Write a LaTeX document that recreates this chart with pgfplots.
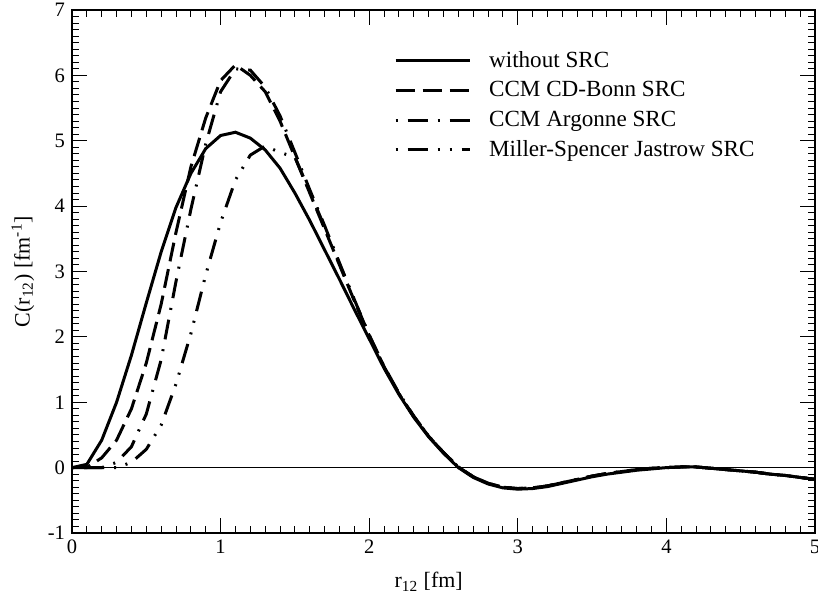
\documentclass[border=0pt]{standalone}
\usepackage{fontspec}
\setmainfont{Liberation Serif}
\usepackage{pgfplots}
\pgfplotsset{compat=1.18}
\usetikzlibrary{calc}

\pgfplotstableread{
x y
0 0
0.1 0.05
0.2 0.42
0.3 1.0
0.4 1.72
0.5 2.52
0.6 3.3
0.7 3.98
0.8 4.5
0.9 4.88
1.0 5.08
1.1 5.13
1.2 5.04
1.3 4.86
1.4 4.58
1.5 4.2
1.6 3.78
1.7 3.33
1.8 2.88
1.9 2.42
2.0 1.97
2.1 1.52
2.2 1.12
2.3 0.77
2.4 0.47
2.5 0.22
2.6 0.0
2.7 -0.15
2.8 -0.25
2.9 -0.31
3.0 -0.33
3.1 -0.32
3.2 -0.29
3.3 -0.24
3.4 -0.19
3.5 -0.14
3.6 -0.10
3.7 -0.07
3.8 -0.04
3.9 -0.02
4.0 0.0
4.1 0.01
4.2 0.01
4.3 -0.01
4.4 -0.03
4.5 -0.05
4.6 -0.07
4.7 -0.10
4.8 -0.12
4.9 -0.15
5.0 -0.18
}\nosrc

\pgfplotstableread{
x y
0 0
0.1 0.0
0.2 0.15
0.3 0.42
0.4 0.9
0.5 1.6
0.6 2.5
0.7 3.6
0.8 4.6
0.9 5.35
1.0 5.92
1.1 6.16
1.2 6.0
1.3 5.75
1.4 5.3
1.5 4.75
1.6 4.2
1.7 3.65
1.8 3.1
1.9 2.55
2.0 2.02
2.1 1.54
2.2 1.13
2.3 0.78
2.4 0.48
2.5 0.23
2.6 0.01
2.7 -0.14
2.8 -0.24
2.9 -0.30
3.0 -0.32
3.1 -0.31
3.2 -0.28
3.3 -0.23
3.4 -0.18
3.5 -0.13
3.6 -0.09
3.7 -0.06
3.8 -0.03
3.9 -0.01
4.0 0.0
4.1 0.01
4.2 0.01
4.3 -0.01
4.4 -0.03
4.5 -0.05
4.6 -0.07
4.7 -0.10
4.8 -0.12
4.9 -0.15
5.0 -0.18
}\cdbonn

\pgfplotstableread{
x y
0 0
0.1 0.0
0.2 0.0
0.3 0.08
0.4 0.32
0.5 0.82
0.6 1.65
0.7 2.85
0.8 3.95
0.9 4.95
1.0 5.75
1.1 6.1
1.2 6.08
1.3 5.82
1.4 5.38
1.5 4.82
1.6 4.25
1.7 3.7
1.8 3.13
1.9 2.57
2.0 2.03
2.1 1.55
2.2 1.14
2.3 0.79
2.4 0.48
2.5 0.23
2.6 0.01
2.7 -0.14
2.8 -0.24
2.9 -0.30
3.0 -0.32
3.1 -0.31
3.2 -0.28
3.3 -0.23
3.4 -0.18
3.5 -0.13
3.6 -0.09
3.7 -0.06
3.8 -0.03
3.9 -0.01
4.0 0.0
4.1 0.01
4.2 0.01
4.3 -0.01
4.4 -0.03
4.5 -0.05
4.6 -0.07
4.7 -0.10
4.8 -0.12
4.9 -0.15
5.0 -0.18
}\argonne

\pgfplotstableread{
x y
0 0
0.1 0.0
0.2 0.0
0.3 0.0
0.4 0.08
0.5 0.28
0.6 0.65
0.7 1.28
0.8 2.05
0.9 2.95
1.0 3.75
1.1 4.4
1.2 4.78
1.3 4.92
1.4 4.82
1.5 4.75
1.6 4.22
1.7 3.68
1.8 3.12
1.9 2.56
2.0 2.02
2.1 1.54
2.2 1.13
2.3 0.78
2.4 0.48
2.5 0.23
2.6 0.01
2.7 -0.14
2.8 -0.24
2.9 -0.30
3.0 -0.32
3.1 -0.31
3.2 -0.28
3.3 -0.23
3.4 -0.18
3.5 -0.13
3.6 -0.09
3.7 -0.06
3.8 -0.03
3.9 -0.01
4.0 0.0
4.1 0.01
4.2 0.01
4.3 -0.01
4.4 -0.03
4.5 -0.05
4.6 -0.07
4.7 -0.10
4.8 -0.12
4.9 -0.15
5.0 -0.18
}\jastrow

\begin{document}
\begin{tikzpicture}
\begin{axis}[
  scale only axis,
  width=371.5bp, height=261.5bp,
  xmin=0, xmax=5, ymin=-1, ymax=7,
  xtick={0,1,2,3,4,5}, ytick={-1,0,1,2,3,4,5,6,7},
  minor x tick num=9, minor y tick num=9,
  tick align=inside,
  major tick length=7.5bp, minor tick length=3.5bp,
  tick style={black, line width=0.5bp},
  axis line style={line width=1bp},
  /pgf/number format/assume math mode=true,
  tick label style={font=\fontsize{10.3}{12}\selectfont},
  xlabel={r\textsubscript{12} [fm]},
  ylabel={C(r\textsubscript{12}) [fm\textsuperscript{-1}]},
  label style={font=\fontsize{11}{13}\selectfont},
  xlabel style={at={(axis description cs:0.48,-0.105)}, anchor=base},
  ylabel style={at={(axis description cs:-0.066,0.5)}, anchor=center},
  legend style={draw=none, fill=none, at={(0.425,0.937)}, anchor=north west,
    font=\fontsize{11.6}{13}\selectfont, row sep=1.6bp},
  legend cell align=left,
  legend image code/.code={\draw[#1] (0bp,0bp) -- (37bp,0bp); \path (44bp,0bp);},
]
\addplot[black, line width=0.5bp, forget plot] coordinates {(0,0) (5,0)};
\addplot[black, line width=1.5bp] table[x=x,y=y] {\nosrc};
\addlegendentry{without SRC}
\addplot[black, line width=1.5bp, dash pattern=on 9.5bp off 4bp] table[x=x,y=y] {\cdbonn};
\addlegendentry{CCM CD-Bonn SRC}
\addplot[black, line width=1.5bp, dash pattern=on 1bp off 5bp on 10bp off 5bp] table[x=x,y=y] {\argonne};
\addlegendentry{CCM Argonne SRC}
\addplot[black, line width=1.5bp, dash pattern=on 1bp off 5bp on 10bp off 5bp on 1bp off 5bp] table[x=x,y=y] {\jastrow};
\addlegendentry{Miller-Spencer Jastrow SRC}
\end{axis}
\pgfresetboundingbox
\useasboundingbox ($(current axis.south west)+(-36bp,-30.5bp)$) rectangle ($(current axis.north east)+(1.5bp,5bp)$);
\end{tikzpicture}
\end{document}
